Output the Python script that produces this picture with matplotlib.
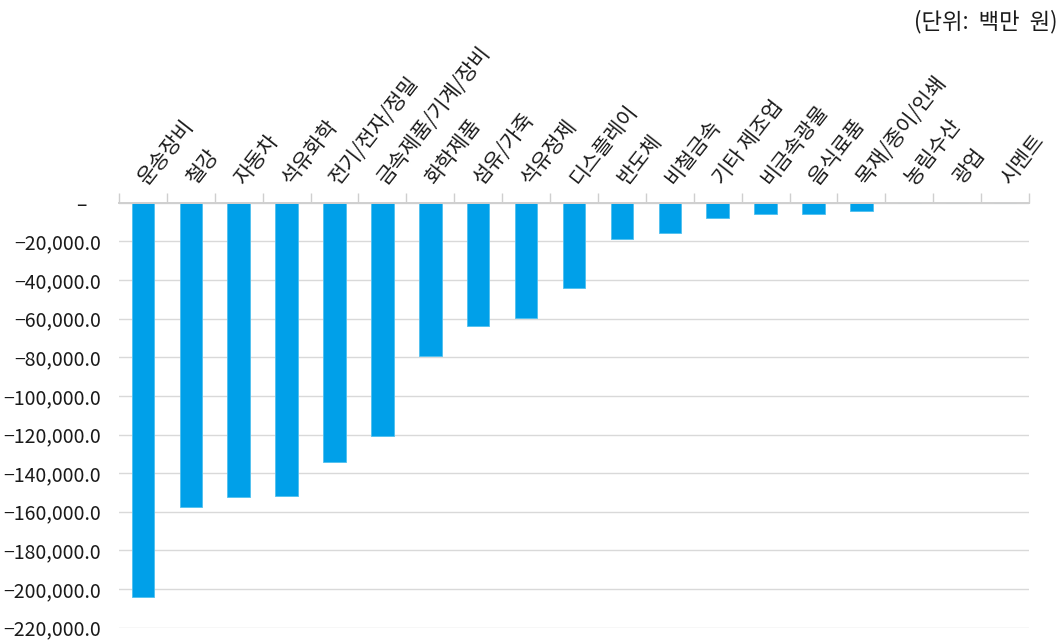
import numpy as np
import matplotlib.pyplot as plt
from matplotlib.ticker import FuncFormatter

plt.rcParams['font.family'] = ['Noto Sans CJK KR', 'DejaVu Sans']

industries = ['운송장비', '철강', '자동차', '석유화학', '전기/전자/정밀',
              '금속제품/기계/장비', '화학제품', '섬유/가죽', '석유정제', '디스플레이',
              '반도체', '비철금속', '기타 제조업', '비금속광물', '음식료품',
              '목재/종이/인쇄', '농림수산', '광업', '시멘트']
change = [-204000, -157500, -152500, -151700, -134200,
          -120900, -79400, -64000, -59800, -44400,
          -19000, -15500, -7900, -6000, -5700,
          -4200, 0, 0, 0]
y_ticks = np.arange(-220000, 1, 20000)

bar_color = '#00A0E9'
grid_color = '#D9D9D9'


def fmt_value(v, pos):
    if v == 0:
        return '\u2013   '
    return '\u2212{:,.1f}'.format(abs(v))


fig = plt.figure(figsize=(10.64, 6.40), dpi=100)
ax = fig.add_axes([0.1118, 0.0192, 0.8553, 0.6641])

x = np.arange(len(industries))
ax.bar(x, change, width=0.47, color=bar_color, edgecolor='#4FC0EF',
       linewidth=0.6, zorder=3)

ax.set_xlim(-0.5, len(industries) - 0.5)
ax.set_ylim(-220000, 0)
ax.set_yticks(y_ticks)
ax.yaxis.set_major_formatter(FuncFormatter(fmt_value))
ax.grid(axis='y', color=grid_color, linewidth=1.0, zorder=0)
ax.tick_params(axis='y', length=0, pad=13, labelsize=14, labelcolor='#1a1a1a')

for side in ['left', 'right', 'bottom', 'top']:
    ax.spines[side].set_visible(False)
ax.axhline(0, color='#CFCFCF', linewidth=1.4, zorder=4, clip_on=False)

# category labels on top, boundary ticks as minor ticks
ax.xaxis.tick_top()
ax.set_xticks(x)
ax.set_xticklabels(industries, rotation=52, ha='left', va='center',
                   rotation_mode='anchor', fontsize=15, color='#1a1a1a')
ax.set_xticks(np.arange(-0.5, len(industries)), minor=True)
ax.tick_params(axis='x', which='major', length=0, pad=15)
ax.tick_params(axis='x', which='minor', length=7, width=1.0,
               color='#CFCFCF', direction='out', top=True, bottom=False)

fig.text(0.994, 0.966, '(단위:  백만  원)', ha='right', va='center',
         fontsize=16, color='#1a1a1a')

fig.savefig('out.png', dpi=100)
